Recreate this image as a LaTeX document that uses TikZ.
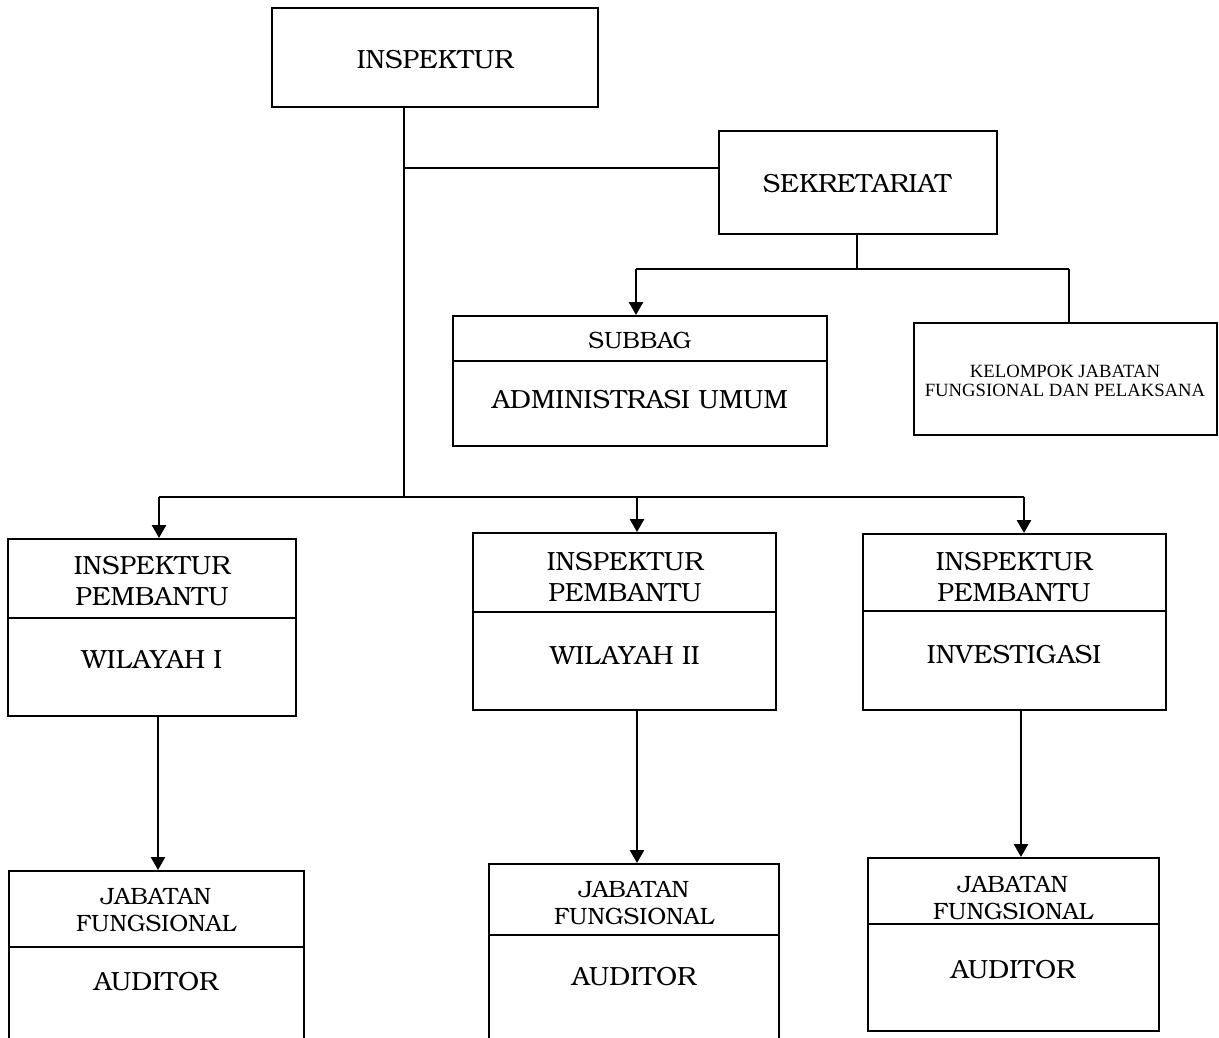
\documentclass[tikz,border=0pt]{standalone}
\usepackage{fontspec}
\usetikzlibrary{arrows.meta,fit}
\newfontfamily\timesfont{Liberation Serif}
\newfontfamily\bkfont{TeX Gyre Bonum}
\tikzset{
  box/.style={draw, line width=2pt, inner sep=0pt, fill=white},
  lbl/.style={align=center, inner sep=0pt, font=\bkfont\fontsize{26.3}{31}\selectfont},
  slbl/.style={align=center, inner sep=0pt, font=\bkfont\fontsize{23.6}{26.5}\selectfont},
  tlbl/.style={align=center, inner sep=0pt, font=\timesfont\fontsize{18.7}{18.5}\selectfont},
  link/.style={line width=2.6pt},
  arr/.style={line width=2.6pt, -{Triangle[length=13pt,width=14pt]}},
  split/.style={line width=2.2pt}
}
\begin{document}
\begin{tikzpicture}[x=1pt,y=-1pt]
\useasboundingbox (0,0) rectangle (1219,1037);
\clip (0,0) rectangle (1219,1037);

% ---- boxes ----
\node[box, fit={(272,8) (598,107)}] (insp) {};
\node[box, fit={(719,131) (997,234)}] (sekr) {};
\node[box, fit={(453,316) (827,446)}] (subbag) {};
\node[box, fit={(914,323) (1217,435)}] (kel) {};
\node[box, fit={(8,539) (296,716)}] (ipw1) {};
\node[box, fit={(473,533) (776,710)}] (ipw2) {};
\node[box, fit={(863,534) (1166,710)}] (ipinv) {};
\node[box, fit={(9,871) (304,1060)}] (jf1) {};
\node[box, fit={(489,864) (779,1060)}] (jf2) {};
\node[box, fit={(868,858) (1159,1031)}] (jf3) {};

% ---- dividers ----
\draw[split] (subbag.west |- 0,361) -- (subbag.east |- 0,361);
\draw[split] (ipw1.west |- 0,618) -- (ipw1.east |- 0,618);
\draw[split] (ipw2.west |- 0,612) -- (ipw2.east |- 0,612);
\draw[split] (ipinv.west |- 0,611) -- (ipinv.east |- 0,611);
\draw[split] (jf1.west |- 0,947) -- (jf1.east |- 0,947);
\draw[split] (jf2.west |- 0,935) -- (jf2.east |- 0,935);
\draw[split] (jf3.west |- 0,924) -- (jf3.east |- 0,924);

% ---- texts ----
\node[lbl] (t-insp) at (435,60) {INSPEKTUR};
\node[lbl] (t-sekr) at (857,184) {SEKRETARIAT};
\node[slbl] (t-subbag1) at (640,340) {SUBBAG};
\node[lbl] (t-subbag2) at (640,400) {ADMINISTRASI UMUM};
\node[tlbl] (t-kel) at (1065,381) {KELOMPOK JABATAN\\FUNGSIONAL DAN PELAKSANA};
\node[lbl] (t-ipw1a) at (152,581) {INSPEKTUR\\PEMBANTU};
\node[lbl] (t-ipw1b) at (152,660) {WILAYAH I};
\node[lbl] (t-ipw2a) at (625,577) {INSPEKTUR\\PEMBANTU};
\node[lbl] (t-ipw2b) at (625,656) {WILAYAH II};
\node[lbl] (t-ipinva) at (1014,577) {INSPEKTUR\\PEMBANTU};
\node[lbl] (t-ipinvb) at (1014,655) {INVESTIGASI};
\node[slbl] (t-jf1a) at (156,910) {JABATAN\\FUNGSIONAL};
\node[lbl] (t-jf1b) at (156,982) {AUDITOR};
\node[slbl] (t-jf2a) at (634,903) {JABATAN\\FUNGSIONAL};
\node[lbl] (t-jf2b) at (634,977) {AUDITOR};
\node[slbl] (t-jf3a) at (1013,898) {JABATAN\\FUNGSIONAL};
\node[lbl] (t-jf3b) at (1013,970) {AUDITOR};

% ---- junction points ----
\coordinate (trunk) at (404,497);
\coordinate (jsekr) at (404,168);
\coordinate (sbar) at (857,269);
\coordinate (sleft) at (636,269);
\coordinate (sright) at (1069,269);
\coordinate (bl) at (159,497);
\coordinate (bm) at (637,497);
\coordinate (br) at (1024,497);

% ---- connectors ----
\draw[link] (insp.south -| trunk) -- (trunk);
\draw[link] (jsekr) -- (jsekr -| sekr.west);
\draw[link] (sekr.south -| sbar) -- (sbar);
\draw[link] (sleft) -- (sright);
\draw[arr] (sleft) -- (subbag.north -| sleft);
\draw[link] (sright) -- (kel.north -| sright);
\draw[link] (bl) -- (br);
\draw[arr] (bl) -- (ipw1.north -| bl);
\draw[arr] (bm) -- (ipw2.north -| bm);
\draw[arr] (br) -- (ipinv.north -| br);
\draw[arr] (ipw1.south -| 158,0) -- (jf1.north -| 158,0);
\draw[arr] (ipw2.south -| 637,0) -- (jf2.north -| 637,0);
\draw[arr] (ipinv.south -| 1021,0) -- (jf3.north -| 1021,0);
\end{tikzpicture}
\end{document}
